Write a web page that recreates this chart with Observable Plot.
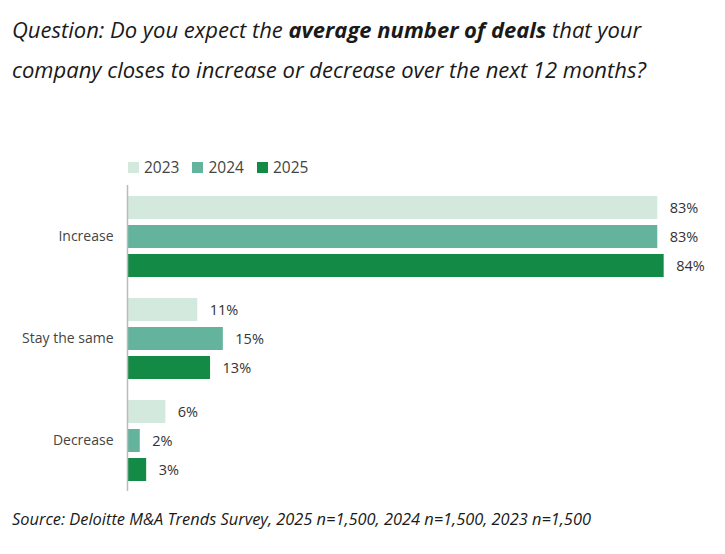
<!DOCTYPE html>
<html>
<head>
<meta charset="utf-8">
<script src="https://cdn.jsdelivr.net/npm/d3@7"></script>
<script src="https://cdn.jsdelivr.net/npm/@observablehq/plot@0.6"></script>
<style>
  html, body { margin: 0; padding: 0; background: #fff; }
  body { width: 725px; height: 554px; position: relative; overflow: hidden; font-family: "Open Sans", sans-serif; }
  #title { position: absolute; left: 12px; top: 9px; font-size: 22px; line-height: 40px; font-style: italic; color: #1a1a1a; white-space: nowrap; }
  #title b { font-weight: 700; }
  #legend { position: absolute; left: 128px; top: 156px; font-size: 15.5px; color: #444; display: flex; align-items: center; line-height: 22px; }
  #legend span.item { display: flex; align-items: center; margin-right: 13px; }
  #legend span.sw { width: 11px; height: 11px; display: inline-block; margin-right: 5px; }
  #chart { position: absolute; left: 0; top: 179px; }
  #caption { position: absolute; left: 12px; top: 507px; font-size: 16.4px; line-height: 24px; font-style: italic; color: #1a1a1a; white-space: nowrap; }
</style>
</head>
<body>
<div id="title">Question: Do you expect the <b>average number of deals</b> that your<br>company closes to increase or decrease over the next 12 months?</div>
<div id="legend"></div>
<div id="chart"></div>
<div id="caption">Source: Deloitte M&amp;A Trends Survey, 2025 n=1,500, 2024 n=1,500, 2023 n=1,500</div>
<script>
const categories = ["Increase", "Stay the same", "Decrease"];
const years = ["2023", "2024", "2025"];
const values2023 = [83, 11, 6];
const values2024 = [83, 15, 2];
const values2025 = [84, 13, 3];
const colors = ["#d3e9dd", "#63b39d", "#138a45"];

const series = [values2023, values2024, values2025];
const data = [];
categories.forEach((c, i) => {
  years.forEach((y, j) => data.push({category: c, year: y, value: series[j][i]}));
});

const legend = document.getElementById("legend");
years.forEach((y, j) => {
  const item = document.createElement("span");
  item.className = "item";
  item.innerHTML = `<span class="sw" style="background:${colors[j]}"></span>${y}`;
  legend.appendChild(item);
});

const chart = Plot.plot({
  width: 725,
  height: 320,
  marginTop: 6,
  marginBottom: 8,
  marginLeft: 127,
  marginRight: 23,
  style: {fontFamily: "Open Sans, sans-serif", fontSize: "14px", color: "#444"},
  x: {domain: [0, 90], axis: null},
  y: {domain: years, axis: null, paddingInner: 0.207, paddingOuter: 0.34},
  fy: {domain: categories, padding: 0, axis: "left", label: null, tickSize: 0, tickPadding: 14},
  color: {domain: years, range: colors},
  marks: [
    Plot.barX(data, {x: "value", y: "year", fy: "category", fill: "year"}),
    Plot.text(data, {x: "value", y: "year", fy: "category", text: d => `${d.value}%`, dx: 12, textAnchor: "start", fill: "#333", fontSize: 14.5}),
    Plot.ruleX([0], {stroke: "#bbb", strokeWidth: 1.5})
  ]
});
document.getElementById("chart").appendChild(chart);
</script>
</body>
</html>
